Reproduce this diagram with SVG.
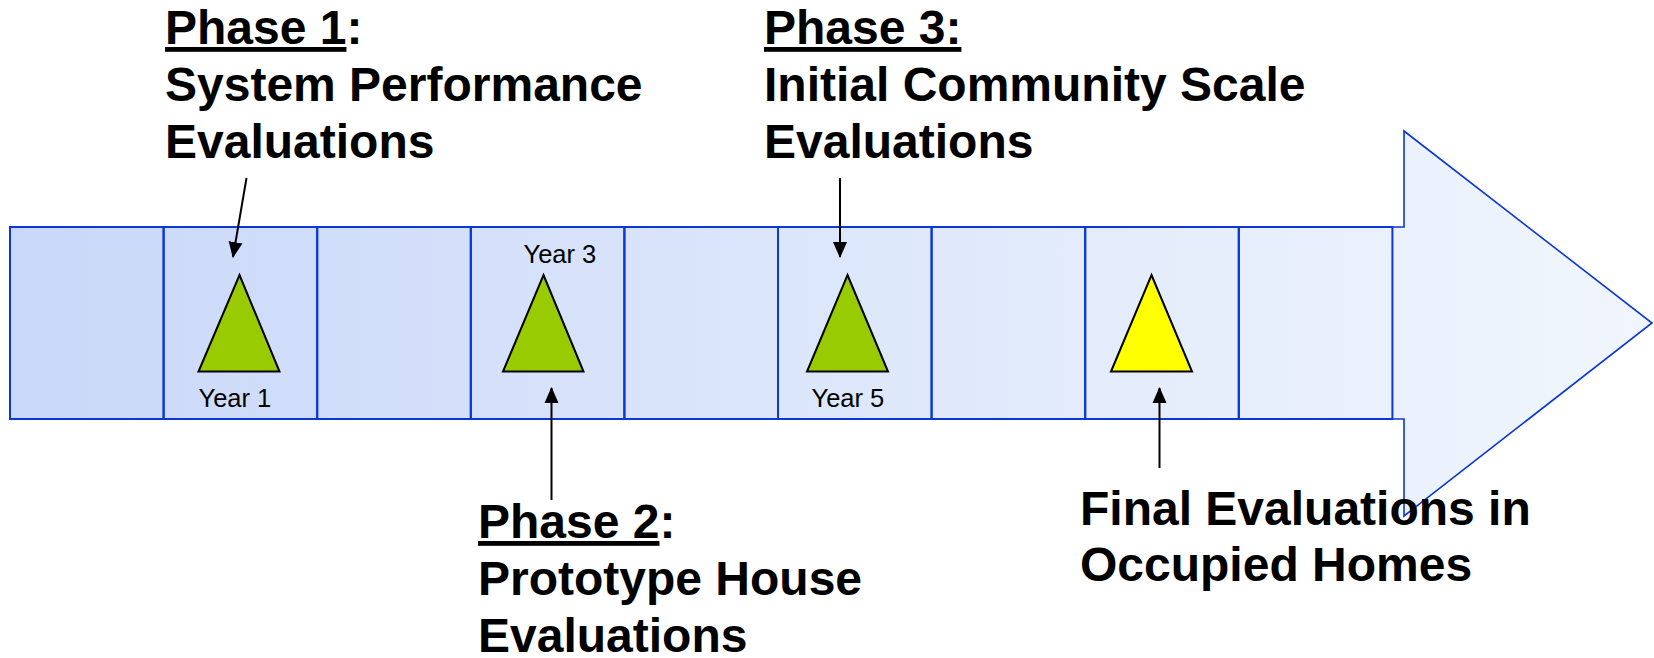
<svg xmlns="http://www.w3.org/2000/svg" width="1654" height="658" viewBox="0 0 1654 658">
<defs>
<linearGradient id="bandGrad" gradientUnits="userSpaceOnUse" x1="10" y1="0" x2="1652" y2="0">
<stop offset="0" stop-color="#c9d8f9"/>
<stop offset="1" stop-color="#f1f6fd"/>
</linearGradient>
<marker id="ah" markerUnits="userSpaceOnUse" markerWidth="16" markerHeight="16" viewBox="0 0 16 16" refX="15" refY="8" orient="auto">
<path d="M0,1 L16,8 L0,15 Z" fill="#000"/>
</marker>
<style>
.cell{fill:none;stroke:#0a37d6;stroke-width:2}
.head{fill:url(#bandGrad);stroke:#0a37d6;stroke-width:1.6}
.tri{stroke:#000;stroke-width:2;stroke-linejoin:miter}
.green{fill:#99cc00}
.yellow{fill:#ffff00}
.big{font-family:"Liberation Sans",Arial,sans-serif;font-weight:bold;font-size:48px;fill:#000}
.yr{font-family:"Liberation Sans",Arial,sans-serif;font-size:25.5px;fill:#000}
.conn{stroke:#000;stroke-width:2;fill:none;marker-end:url(#ah)}
.u{text-decoration:underline}
</style>
</defs>
<g id="timeline-arrow">
<path class="head" d="M10,227 L1404,227 L1404,131 L1652,323 L1404,516 L1404,419 L10,419 Z"/>
<rect class="cell" x="10" y="227" width="153.6" height="192"/>
<rect class="cell" x="163.6" y="227" width="153.6" height="192"/>
<rect class="cell" x="317.2" y="227" width="153.6" height="192"/>
<rect class="cell" x="470.8" y="227" width="153.6" height="192"/>
<rect class="cell" x="624.4" y="227" width="153.6" height="192"/>
<rect class="cell" x="778" y="227" width="153.6" height="192"/>
<rect class="cell" x="931.6" y="227" width="153.6" height="192"/>
<rect class="cell" x="1085.2" y="227" width="153.6" height="192"/>
<rect class="cell" x="1238.8" y="227" width="153.6" height="192"/>
</g>
<g id="milestone-year1">
<polygon class="tri green" points="239.5,275 279.5,371.5 198.5,371.5"/>
<text class="yr" x="198.5" y="406.5">Year 1</text>
</g>
<g id="milestone-year3">
<polygon class="tri green" points="543.5,275 583.5,371.5 503,371.5"/>
<text class="yr" x="523.5" y="262.5">Year 3</text>
</g>
<g id="milestone-year5">
<polygon class="tri green" points="847.5,275 888,371.5 807,371.5"/>
<text class="yr" x="811.5" y="406.5">Year 5</text>
</g>
<g id="milestone-final">
<polygon class="tri yellow" points="1151.5,275 1192,371.5 1111,371.5"/>
</g>
<g id="phase1-label">
<text class="big" x="165" y="44"><tspan class="u">Phase 1</tspan>:<tspan x="165" dy="57">System Performance</tspan><tspan x="165" dy="57">Evaluations</tspan></text>
</g>
<g id="phase2-label">
<text class="big" x="478" y="538"><tspan class="u">Phase 2</tspan>:<tspan x="478" dy="57">Prototype House</tspan><tspan x="478" dy="57">Evaluations</tspan></text>
</g>
<g id="phase3-label">
<text class="big" x="764" y="44"><tspan class="u">Phase 3:</tspan><tspan x="764" dy="57">Initial Community Scale</tspan><tspan x="764" dy="57">Evaluations</tspan></text>
</g>
<g id="final-label">
<text class="big" x="1080" y="525">Final Evaluations in<tspan x="1080" dy="56">Occupied Homes</tspan></text>
</g>
<g id="connectors">
<line class="conn" x1="246.5" y1="178" x2="233" y2="257"/>
<line class="conn" x1="551.5" y1="500" x2="551.5" y2="388"/>
<line class="conn" x1="840" y1="178" x2="840" y2="257"/>
<line class="conn" x1="1159.5" y1="468" x2="1159.5" y2="388"/>
</g>
</svg>
